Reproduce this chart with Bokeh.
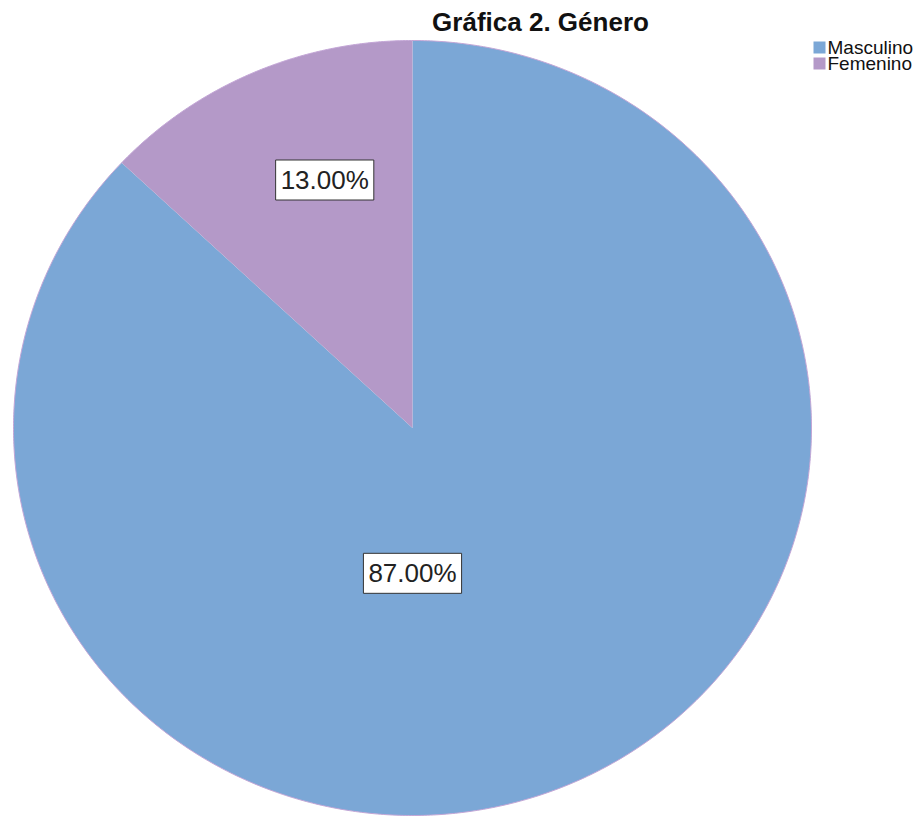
import numpy as np
from bokeh.plotting import figure
from bokeh.models import Range1d, Label
from bokeh.core.properties import value
from bokeh.embed import file_html
from bokeh.resources import INLINE

# ---- data ----
categories = ["Masculino", "Femenino"]
percent = [87.00, 13.00]
colors = ["#7BA7D6", "#B499C8"]
title_text = "Gráfica 2. Género"

# ---- layout constants (pixels) ----
W, H = 921, 816
cx, cy = 412, 427.5          # pie centre (from top-left)
rx, ry = 399, 387.5          # pie radii
label_pos = [(0.0, -0.375), (-0.22, 0.64)]  # label anchor as fraction of radii
leg_x, leg_top, leg_row, leg_box = 813, 41, 16, 12

p = figure(width=W, height=H, output_backend="svg", toolbar_location=None,
           x_range=Range1d(-cx, W - cx), y_range=Range1d(-(H - cy), cy),
           min_border=0, outline_line_color=None)
p.axis.visible = False
p.grid.visible = False
p.background_fill_color = "white"
p.border_fill_color = "white"

# slices: Femenino starts at 12 o'clock going counter-clockwise, Masculino takes rest
fracs = np.array(percent) / 100.0
angles = {}
a0 = np.pi / 2
for name, f in zip(categories[::-1], fracs[::-1]):
    a1 = a0 + 2 * np.pi * f
    angles[name] = (a0, a1)
    a0 = a1

for i, name in enumerate(categories):
    s, e = angles[name]
    t = np.linspace(s, e, 400)
    xs = np.concatenate([[0], rx * np.cos(t), [0]])
    ys = np.concatenate([[0], ry * np.sin(t), [0]])
    p.patch(xs, ys, fill_color=colors[i], line_color=None)

# thin outline around pie
t = np.linspace(0, 2 * np.pi, 800)
p.line(rx * np.cos(t), ry * np.sin(t), line_color="#C3A6D6", line_width=1)

# percent labels
for i, name in enumerate(categories):
    fx, fy = label_pos[i]
    p.add_layout(Label(x=fx * rx, y=fy * ry, text=f"{percent[i]:.2f}%",
                       text_align="center", text_baseline="middle",
                       text_font="Liberation Sans", text_font_size="26px",
                       text_color="#222222",
                       background_fill_color="white",
                       border_line_color="#333333", border_line_width=1,
                       padding=5))

# title
p.add_layout(Label(x=540, y=H - 6, x_units="screen", y_units="screen",
                   text=title_text, text_align="center", text_baseline="top",
                   text_font="Liberation Sans", text_font_style="bold",
                   text_font_size="26px", text_color="#111111"))

# legend (manual, rows from categories)
idx = np.arange(len(categories))
box_cx = (leg_x + leg_box / 2) - cx
row_cy = cy - (leg_top + leg_box / 2 + idx * leg_row)
p.rect(x=[box_cx] * len(categories), y=row_cy, width=leg_box, height=leg_box,
       fill_color=colors, line_color=None)
p.text(x=[leg_x + leg_box + 2 - cx] * len(categories), y=row_cy, text=categories,
       text_font=value("Liberation Sans"), text_font_size="19px",
       text_baseline="middle", text_align="left", text_color="#111111")

open("out.html", "w").write(file_html(p, INLINE))
